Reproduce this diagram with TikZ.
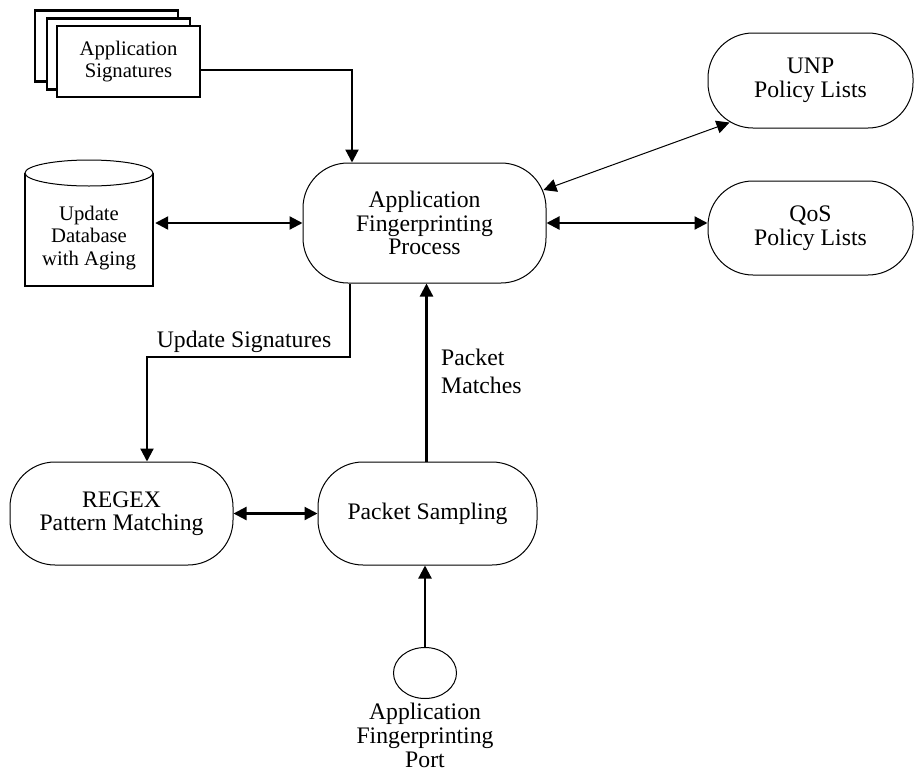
\documentclass[tikz,border=0pt]{standalone}
\usepackage{fontspec}
\setmainfont{Liberation Serif}
\usetikzlibrary{arrows.meta,shapes.geometric}
\begin{document}
\begin{tikzpicture}[x=1pt,y=-1pt,
  thickline/.style={line width=2.2pt},
  thinline/.style={line width=1pt},
  bigfont/.style={font=\fontsize{23.7}{23.5}\selectfont},
  smallfont/.style={font=\fontsize{20.7}{22.5}\selectfont},
  tipend/.style={-{Triangle[length=13pt,width=13pt]}},
  tipboth/.style={{Triangle[length=13pt,width=13pt]}-{Triangle[length=13pt,width=13pt]}},
  termbox/.style={draw, thinline, rounded corners=45pt, align=center, bigfont, inner sep=0pt},
  sigbox/.style={draw, thickline, fill=white, minimum width=143pt, minimum height=71pt, align=center, smallfont, inner sep=0pt},
  lbl/.style={bigfont, inner sep=0pt}
]
\useasboundingbox (0,0) rectangle (914,774);

% Application Signatures (stacked documents)
\node[sigbox] (sigback) at (106.5,46) {};
\node[sigbox] (sigmid) at (118.5,54) {};
\node[sigbox] (sig) at (128.5,61.5) {Application\\Signatures};

% Database cylinder
\draw[thickline] (25,173) -- (25,286) -- (153,286) -- (153,173);
\draw[thinline, fill=white] (89,173) ellipse [x radius=64, y radius=13];
\node[smallfont, align=center, minimum width=128pt, inner sep=0pt] (db) at (89,238) {Update\\Database\\with Aging};

% Process nodes
\node[termbox, minimum width=243pt, minimum height=120pt] (proc) at (424.5,223) {Application\\Fingerprinting\\Process};
\node[termbox, minimum width=205pt, minimum height=95pt] (unp) at (810.5,80.5) {UNP\\Policy Lists};
\node[termbox, minimum width=205pt, minimum height=94pt] (qos) at (810.5,228) {QoS\\Policy Lists};
\node[termbox, minimum width=223pt, minimum height=103pt] (regex) at (121.5,513.5) {REGEX\\Pattern Matching};
\node[termbox, minimum width=219pt, minimum height=103pt] (ps) at (427.5,513.5) {Packet Sampling};
\node[draw, thinline, ellipse, minimum width=63pt, minimum height=51pt, inner sep=0pt] (port) at (425,673) {};
\node[lbl, align=center, anchor=north, font=\fontsize{23.7}{24}\selectfont] (portlbl) at (425,703) {Application\\Fingerprinting\\Port};

% Connectors
\draw[thickline, tipend] ([yshift=-8.5pt]sig.east) -| ([xshift=-72.5pt]proc.north);
\draw[thickline, tipboth, shorten <=2pt] (db.east |- proc.west) -- (proc.west);
\draw[thickline, tipboth] (proc.east) -- (proc.east -| qos.west);
\draw[thinline, tipboth] ([xshift=-3pt,yshift=33pt]proc.east) -- ([xshift=22pt,yshift=6pt]unp.south west);
\coordinate (us) at (147,357);
\draw[thickline, tipend] ([xshift=-74.5pt]proc.south) |- (us) -- (us |- regex.north);
\node[lbl] (uslbl) at (244,342) {Update Signatures};
\draw[thickline, tipend] ([xshift=-1pt]ps.north) -- ([xshift=-1pt]ps.north |- proc.south);
\node[lbl, align=left, anchor=west, font=\fontsize{23.7}{28}\selectfont] (pmlbl) at (441,371) {Packet\\Matches};
\draw[thickline, tipboth] (regex.east) -- (ps.west);
\draw[thickline, tipend] (port.north) -- (port.north |- ps.south);
\end{tikzpicture}
\end{document}
